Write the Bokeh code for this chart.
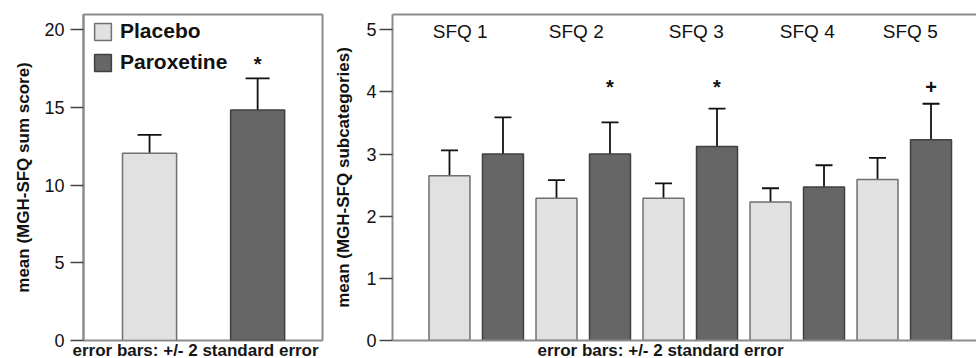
from bokeh.plotting import figure
from bokeh.layouts import row
from bokeh.models import (ColumnDataSource, Whisker, TeeHead, Legend, LegendItem, Range1d,
                          FixedTicker, LinearAxis, Title)
from bokeh.core.properties import value
from bokeh.embed import file_html
from bokeh.resources import INLINE

# ---------------- data ----------------
groups = ["Placebo", "Paroxetine"]
sum_mean = [12.05, 14.83]
sum_lower = [10.83, 12.72]
sum_upper = [13.24, 16.87]
sum_sig = ["", "*"]

sfq_labels = ["SFQ 1", "SFQ 2", "SFQ 3", "SFQ 4", "SFQ 5"]
placebo_mean = [2.65, 2.29, 2.29, 2.23, 2.59]
placebo_lower = [2.22, 2.01, 2.06, 2.02, 2.24]
placebo_upper = [3.06, 2.58, 2.53, 2.45, 2.94]
parox_mean = [3.00, 3.00, 3.12, 2.47, 3.23]
parox_lower = [2.40, 2.49, 2.51, 2.11, 2.66]
parox_upper = [3.59, 3.51, 3.73, 2.82, 3.81]
sfq_sig = ["", "*", "*", "", "+"]

left_ticks = [0, 5, 10, 15, 20]
right_ticks = [0, 1, 2, 3, 4, 5]
footnote = "error bars: +/- 2 standard error"

# ---------------- style ----------------
FONT = "Liberation Sans"
PLAC_FILL, PLAC_LINE = "#e1e1e1", "#707070"
PARO_FILL, PARO_LINE = "#666666", "#404040"
FRAME = "#8c8c8c"
TICKC = "#444444"
LABEL_DX = [-16, -7, 6, 10, 6]   # pixel nudges of the SFQ headings

H = 358
TOP_B = 14
FRAME_H = 326
BOT_B = H - TOP_B - FRAME_H


def style_yaxis(ax, ticks, title, standoff, title_standoff):
    ax.ticker = FixedTicker(ticks=ticks)
    ax.axis_label = title
    ax.axis_label_text_font = FONT
    ax.axis_label_text_font_size = "17px"
    ax.axis_label_text_font_style = "bold"
    ax.axis_label_text_color = "#111111"
    ax.axis_label_standoff = title_standoff
    ax.major_label_text_font = FONT
    ax.major_label_text_font_size = "18px"
    ax.major_label_text_color = "#111111"
    ax.major_label_standoff = standoff
    ax.major_tick_in = 0
    ax.major_tick_out = 13
    ax.major_tick_line_color = TICKC
    ax.major_tick_line_width = 1.5
    ax.minor_tick_line_color = None
    ax.axis_line_color = FRAME
    ax.axis_line_width = 2


def blank_axis(ax):
    ax.ticker = FixedTicker(ticks=[])
    ax.major_tick_out = 0
    ax.major_tick_in = 0
    ax.minor_tick_line_color = None
    ax.major_label_standoff = 0
    ax.major_label_text_font_size = "0px"
    ax.axis_line_color = FRAME
    ax.axis_line_width = 2


def add_footnote(p, offset):
    p.add_layout(Title(text=footnote, align="left", offset=offset, standoff=-4,
                       text_font=FONT, text_font_size="17px", text_font_style="bold",
                       text_color="#161616"), "below")


# ---------------- left panel ----------------
p1 = figure(width=330, height=H, x_range=Range1d(0.389, 2.60), y_range=Range1d(0, 20.985),
            output_backend="svg", toolbar_location=None,
            min_border_left=83, min_border_right=8, min_border_top=TOP_B, min_border_bottom=BOT_B)
p1.xaxis.visible = False
p1.grid.visible = False
p1.outline_line_color = FRAME
p1.outline_line_width = 2
style_yaxis(p1.yaxis[0], left_ticks, "mean (MGH-SFQ sum score)", 6, 8)

src1 = ColumnDataSource(dict(x=[1, 2], top=sum_mean, lower=sum_lower, upper=sum_upper,
                             fill=[PLAC_FILL, PARO_FILL], line=[PLAC_LINE, PARO_LINE]))
r1 = p1.vbar(x="x", top="top", width=0.5, source=src1, fill_color="fill", line_color="line",
             line_width=1.5)
p1.add_layout(Whisker(base="x", lower="lower", upper="upper", source=src1, line_color="#111111",
                      line_width=1.8,
                      upper_head=TeeHead(size=24, line_color="#111111", line_width=1.8),
                      lower_head=TeeHead(size=24, line_color="#111111", line_width=1.8)))
sig_y_left = 17.8
p1.text(x=[xx for xx, s in zip([1, 2], sum_sig) if s], y=[sig_y_left for s in sum_sig if s],
        text=[s for s in sum_sig if s], text_align="center", text_baseline="middle",
        text_font=value(FONT), text_font_size="20px", text_font_style="bold", text_color="#111111")

legend = Legend(items=[LegendItem(label=groups[0], renderers=[r1], index=0),
                       LegendItem(label=groups[1], renderers=[r1], index=1)],
                location=(9, 266), border_line_color=None, background_fill_alpha=0,
                label_text_font=FONT, label_text_font_size="21px", label_text_font_style="bold",
                label_text_color="#111111",
                glyph_width=21, glyph_height=21, label_standoff=7, spacing=7,
                padding=0, margin=0)
p1.add_layout(legend)
add_footnote(p1, -11)

# ---------------- right panel ----------------
p2 = figure(width=646, height=H, x_range=Range1d(-0.065, 10.85), y_range=Range1d(0, 5.246),
            output_backend="svg", toolbar_location=None,
            min_border_left=62, min_border_right=0, min_border_top=TOP_B, min_border_bottom=BOT_B)
p2.grid.visible = False
p2.outline_line_color = None
p2.xaxis.visible = False
top_axis = LinearAxis()
blank_axis(top_axis)
p2.add_layout(top_axis, "above")
bottom_axis = LinearAxis()
blank_axis(bottom_axis)
p2.add_layout(bottom_axis, "below")
style_yaxis(p2.yaxis[0], right_ticks, "mean (MGH-SFQ subcategories)", 3, 10)

n = len(sfq_labels)
xs_pl = [2 * g + 1 for g in range(n)]
xs_pa = [2 * g + 2 for g in range(n)]
src2 = ColumnDataSource(dict(
    x=xs_pl + xs_pa,
    top=placebo_mean + parox_mean,
    lower=placebo_lower + parox_lower,
    upper=placebo_upper + parox_upper,
    fill=[PLAC_FILL] * n + [PARO_FILL] * n,
    line=[PLAC_LINE] * n + [PARO_LINE] * n))
p2.vbar(x="x", top="top", width=0.766, source=src2, fill_color="fill", line_color="line",
        line_width=1.5)
p2.add_layout(Whisker(base="x", lower="lower", upper="upper", source=src2, line_color="#111111",
                      line_width=1.8,
                      upper_head=TeeHead(size=17, line_color="#111111", line_width=1.8),
                      lower_head=TeeHead(size=17, line_color="#111111", line_width=1.8)))

group_centers = [2 * g + 1.5 for g in range(n)]
label_y = 4.97
src_lab = ColumnDataSource(dict(x=group_centers, y=[label_y] * n, text=sfq_labels, dx=LABEL_DX))
p2.text(x="x", y="y", text="text", x_offset="dx", source=src_lab, text_align="center",
        text_baseline="middle", text_font=value(FONT), text_font_size="19px", text_color="#111111")

sig_y_right = 4.08
p2.text(x=[xx for xx, s in zip(xs_pa, sfq_sig) if s], y=[sig_y_right for s in sfq_sig if s],
        text=[s for s in sfq_sig if s], text_align="center", text_baseline="middle",
        text_font=value(FONT), text_font_size="20px", text_font_style="bold", text_color="#111111")
add_footnote(p2, 145)

layout = row(p1, p2, spacing=0)
open("out.html", "w").write(file_html(layout, INLINE))
